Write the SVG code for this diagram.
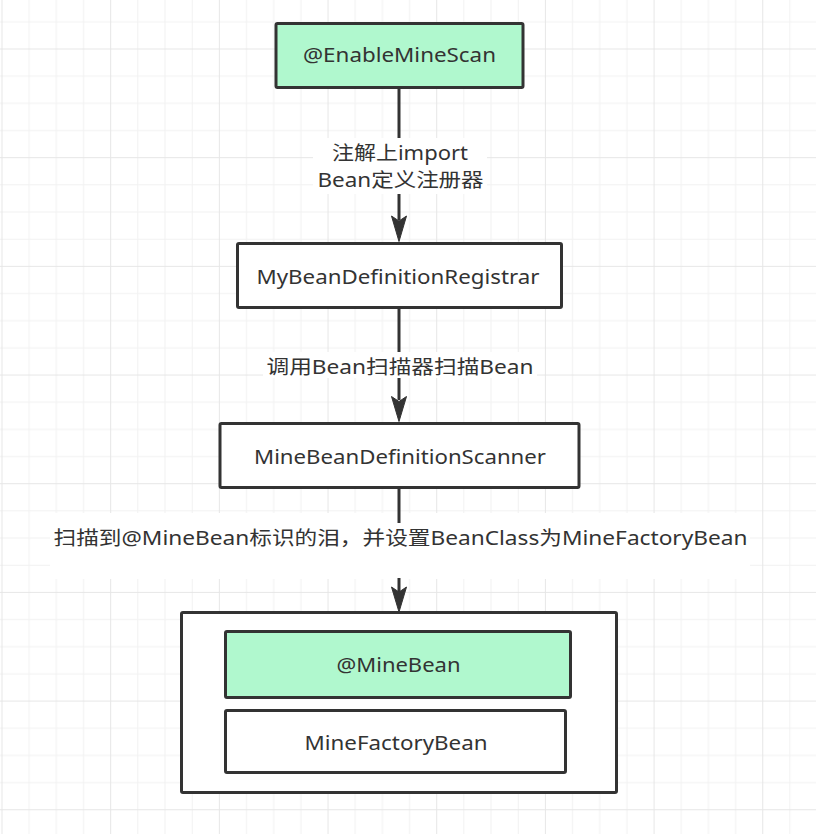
<svg xmlns="http://www.w3.org/2000/svg" width="816" height="834" viewBox="0 0 816 834">
  <defs>
    <!-- background grid: minor lines every 27.17px, heavier line every 4th -->
    <pattern id="grid" patternUnits="userSpaceOnUse" x="1.5" y="48.5" width="108.68" height="108.68">
      <rect x="27.17" y="0" width="1" height="108.68" fill="#f1f1f1"/>
      <rect x="54.34" y="0" width="1" height="108.68" fill="#f1f1f1"/>
      <rect x="81.51" y="0" width="1" height="108.68" fill="#f1f1f1"/>
      <rect x="0" y="27.17" width="108.68" height="1" fill="#f1f1f1"/>
      <rect x="0" y="54.34" width="108.68" height="1" fill="#f1f1f1"/>
      <rect x="0" y="81.51" width="108.68" height="1" fill="#f1f1f1"/>
      <rect x="0" y="0" width="1" height="108.68" fill="#e6e6e6"/>
      <rect x="0" y="0" width="108.68" height="1" fill="#e6e6e6"/>
    </pattern>
    <style>
      .box { fill: #ffffff; stroke: #333333; stroke-width: 3; }
      .green { fill: #b0f8ce; }
      .txt { font-family: "Noto Sans", "Noto Sans CJK SC", sans-serif; font-size: 19.5px; fill: #333333; text-anchor: middle; }
      .edge { stroke: #333333; stroke-width: 3; fill: none; }
      .head { fill: #333333; stroke: #333333; stroke-width: 1; stroke-linejoin: miter; }
      .lblbg { fill: #ffffff; }
    </style>
  </defs>

  <rect x="0" y="0" width="816" height="834" fill="#ffffff"/>
  <rect x="0" y="0" width="816" height="834" fill="url(#grid)"/>

  <!-- white area behind the long edge label -->
  <rect x="50" y="513" width="700" height="66" fill="#ffffff"/>

  <g id="connectors">
    <line class="edge" x1="399" y1="88" x2="399" y2="220"/>
    <path class="head" d="M399,241.5 L391.5,216 L399,221 L406.5,216 Z"/>

    <line class="edge" x1="399" y1="308" x2="399" y2="400"/>
    <path class="head" d="M399,421.5 L391.5,396.5 L399,401.5 L406.5,396.5 Z"/>

    <line class="edge" x1="399" y1="488" x2="399" y2="592"/>
    <path class="head" d="M399,612 L391.5,587 L399,592 L406.5,587 Z"/>

    <g id="label-import">
      <rect class="lblbg" x="313" y="138" width="174" height="56"/>
      <text class="txt" x="400" y="160" textLength="136" lengthAdjust="spacingAndGlyphs">注解上import</text>
      <text class="txt" x="400.5" y="187" textLength="166" lengthAdjust="spacingAndGlyphs">Bean定义注册器</text>
    </g>
    <g id="label-scan">
      <rect class="lblbg" x="263" y="352" width="274" height="26"/>
      <text class="txt" x="400" y="374" textLength="267" lengthAdjust="spacingAndGlyphs">调用Bean扫描器扫描Bean</text>
    </g>
    <g id="label-factory">
      <rect class="lblbg" x="50" y="523" width="700" height="55"/>
      <text class="txt" x="400.5" y="544.5" textLength="694" lengthAdjust="spacingAndGlyphs">扫描到@MineBean标识的泪，并设置BeanClass为MineFactoryBean</text>
    </g>
  </g>

  <g id="enable-mine-scan">
    <rect class="box green" x="276" y="23.5" width="247" height="64" rx="1.5"/>
    <text class="txt" x="399.5" y="62" textLength="193" lengthAdjust="spacingAndGlyphs">@EnableMineScan</text>
  </g>

  <g id="registrar">
    <rect class="box" x="237.5" y="243.5" width="324" height="64" rx="1.5"/>
    <text class="txt" x="398" y="284" textLength="283" lengthAdjust="spacingAndGlyphs">MyBeanDefinitionRegistrar</text>
  </g>

  <g id="scanner">
    <rect class="box" x="220" y="423.5" width="359" height="64" rx="1.5"/>
    <text class="txt" x="400" y="463.5" textLength="292" lengthAdjust="spacingAndGlyphs">MineBeanDefinitionScanner</text>
  </g>

  <g id="bean-container">
    <rect class="box" x="181.5" y="612.5" width="435" height="180" rx="1.5"/>
    <g id="mine-bean">
      <rect class="box green" x="225.5" y="631.5" width="345" height="66" rx="1.5"/>
      <text class="txt" x="398.5" y="672" textLength="124" lengthAdjust="spacingAndGlyphs">@MineBean</text>
    </g>
    <g id="mine-factory-bean">
      <rect class="box" x="225.5" y="710.5" width="340" height="62" rx="1.5"/>
      <text class="txt" x="396" y="749.5" textLength="183" lengthAdjust="spacingAndGlyphs">MineFactoryBean</text>
    </g>
  </g>
</svg>
